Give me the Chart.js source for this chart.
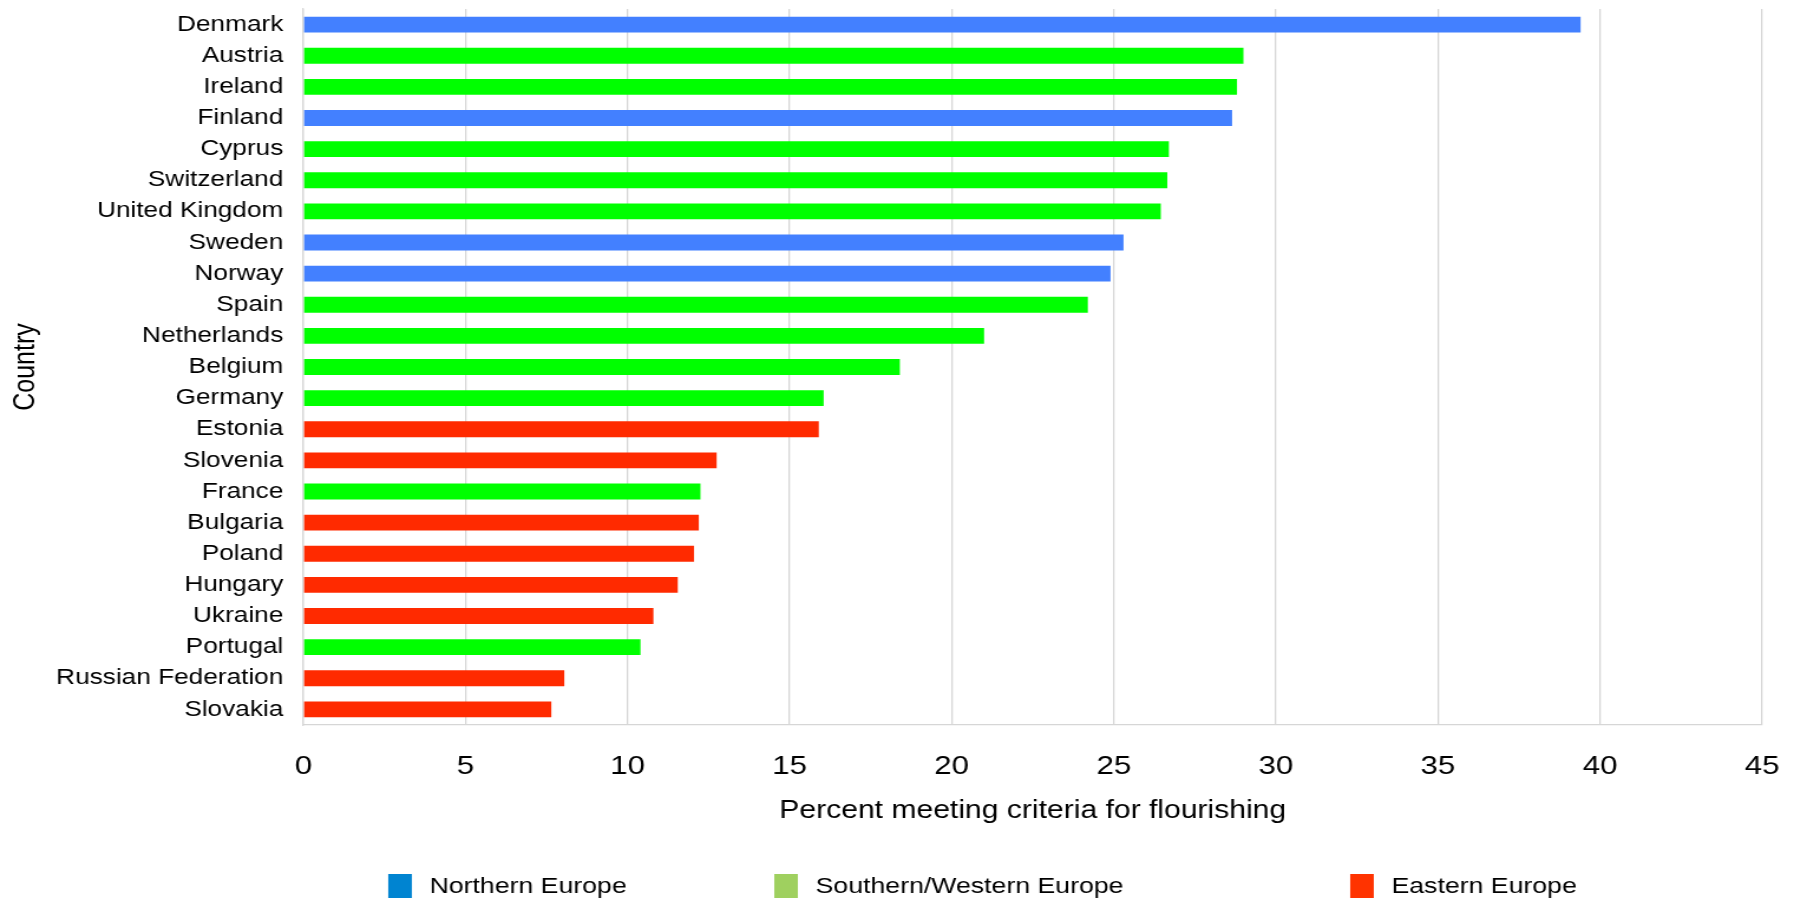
<!DOCTYPE html>
<html>
<head>
<meta charset="utf-8">
<script src="https://cdn.jsdelivr.net/npm/chart.js@4.4.1/dist/chart.umd.min.js"></script>
<style>
html,body{margin:0;padding:0;background:#fff;overflow:hidden;}
#wrap{width:1520px;height:904px;transform:scaleX(1.180263);transform-origin:0 0;}
canvas{display:block;}
</style>
</head>
<body>
<div id="wrap"><canvas id="c" width="1520" height="904"></canvas></div>
<script>
const countries = ["Denmark","Austria","Ireland","Finland","Cyprus","Switzerland","United Kingdom","Sweden","Norway","Spain","Netherlands","Belgium","Germany","Estonia","Slovenia","France","Bulgaria","Poland","Hungary","Ukraine","Portugal","Russian Federation","Slovakia"];
const flourishing = [39.4,29.0,28.8,28.65,26.7,26.65,26.45,25.3,24.9,24.2,21.0,18.4,16.05,15.9,12.75,12.25,12.2,12.05,11.55,10.8,10.4,8.05,7.65];
const regionOf = ["N","S","S","N","S","S","S","N","N","S","S","S","S","E","E","S","E","E","E","E","S","E","E"];
const regionCodes = ["N","S","E"];
const regionNames = ["Northern Europe","Southern/Western Europe","Eastern Europe"];
const barColors = {N:"#4380ff", S:"#00ff00", E:"#ff2a00"};
const legendColors = {N:"#0084d1", S:"#9fd05f", E:"#ff3300"};
const xTitle = "Percent meeting criteria for flourishing";
const yTitle = "Country";

const FONT = "'Liberation Sans', Arial, Helvetica, sans-serif";

const legendPlugin = {
  id: "customLegend",
  afterDraw(chart) {
    const ctx = chart.ctx;
    const xs = [0.2164, 0.4316, 0.7526];
    const y = chart.height - 18;
    ctx.save();
    ctx.font = "22.6px " + FONT;
    ctx.textBaseline = "middle";
    ctx.textAlign = "left";
    regionCodes.forEach((code, i) => {
      const x = chart.width * xs[i];
      ctx.fillStyle = legendColors[code];
      ctx.fillRect(x, y - 12, 20, 24);
      ctx.fillStyle = "#000";
      ctx.fillText(regionNames[i], x + 35, y + 1);
    });
    ctx.restore();
  }
};

new Chart(document.getElementById("c"), {
  type: "bar",
  data: {
    labels: countries,
    datasets: [{
      label: "Percent",
      data: flourishing,
      backgroundColor: regionOf.map(r => barColors[r]),
      borderWidth: 0,
      barPercentage: 0.51,
      categoryPercentage: 1.0
    }]
  },
  options: {
    indexAxis: "y",
    responsive: false,
    animation: false,
    layout: { padding: { left: 7, right: 27, top: 9, bottom: 78 } },
    plugins: { legend: { display: false }, tooltip: { enabled: false } },
    scales: {
      x: {
        min: 0, max: 45,
        ticks: { stepSize: 5, color: "#000", font: { size: 26.5, family: FONT }, padding: 25.5 },
        grid: { color: "#d6d6d6", lineWidth: 1.3, drawTicks: false },
        border: { color: "#d6d6d6", width: 1.3 },
        title: { display: true, text: xTitle, color: "#000", font: { size: 25.5, family: FONT }, padding: { top: 16, bottom: 0 } },
        afterFit(scale) { scale.paddingLeft = 0; scale.paddingRight = 0; scale.height = 101; }
      },
      y: {
        ticks: { color: "#000", font: { size: 22.2, family: FONT }, padding: 17, autoSkip: false },
        grid: { display: false, drawTicks: false },
        border: { display: true, color: "#d6d6d6", width: 1.3 },
        title: { display: true, text: yTitle, color: "#000", font: { size: 25, family: FONT }, padding: 0 },
        afterFit(scale) { scale.width = 250; scale.paddingTop = 0; scale.paddingBottom = 0; }
      }
    }
  },
  plugins: [legendPlugin]
});
</script>
</body>
</html>
